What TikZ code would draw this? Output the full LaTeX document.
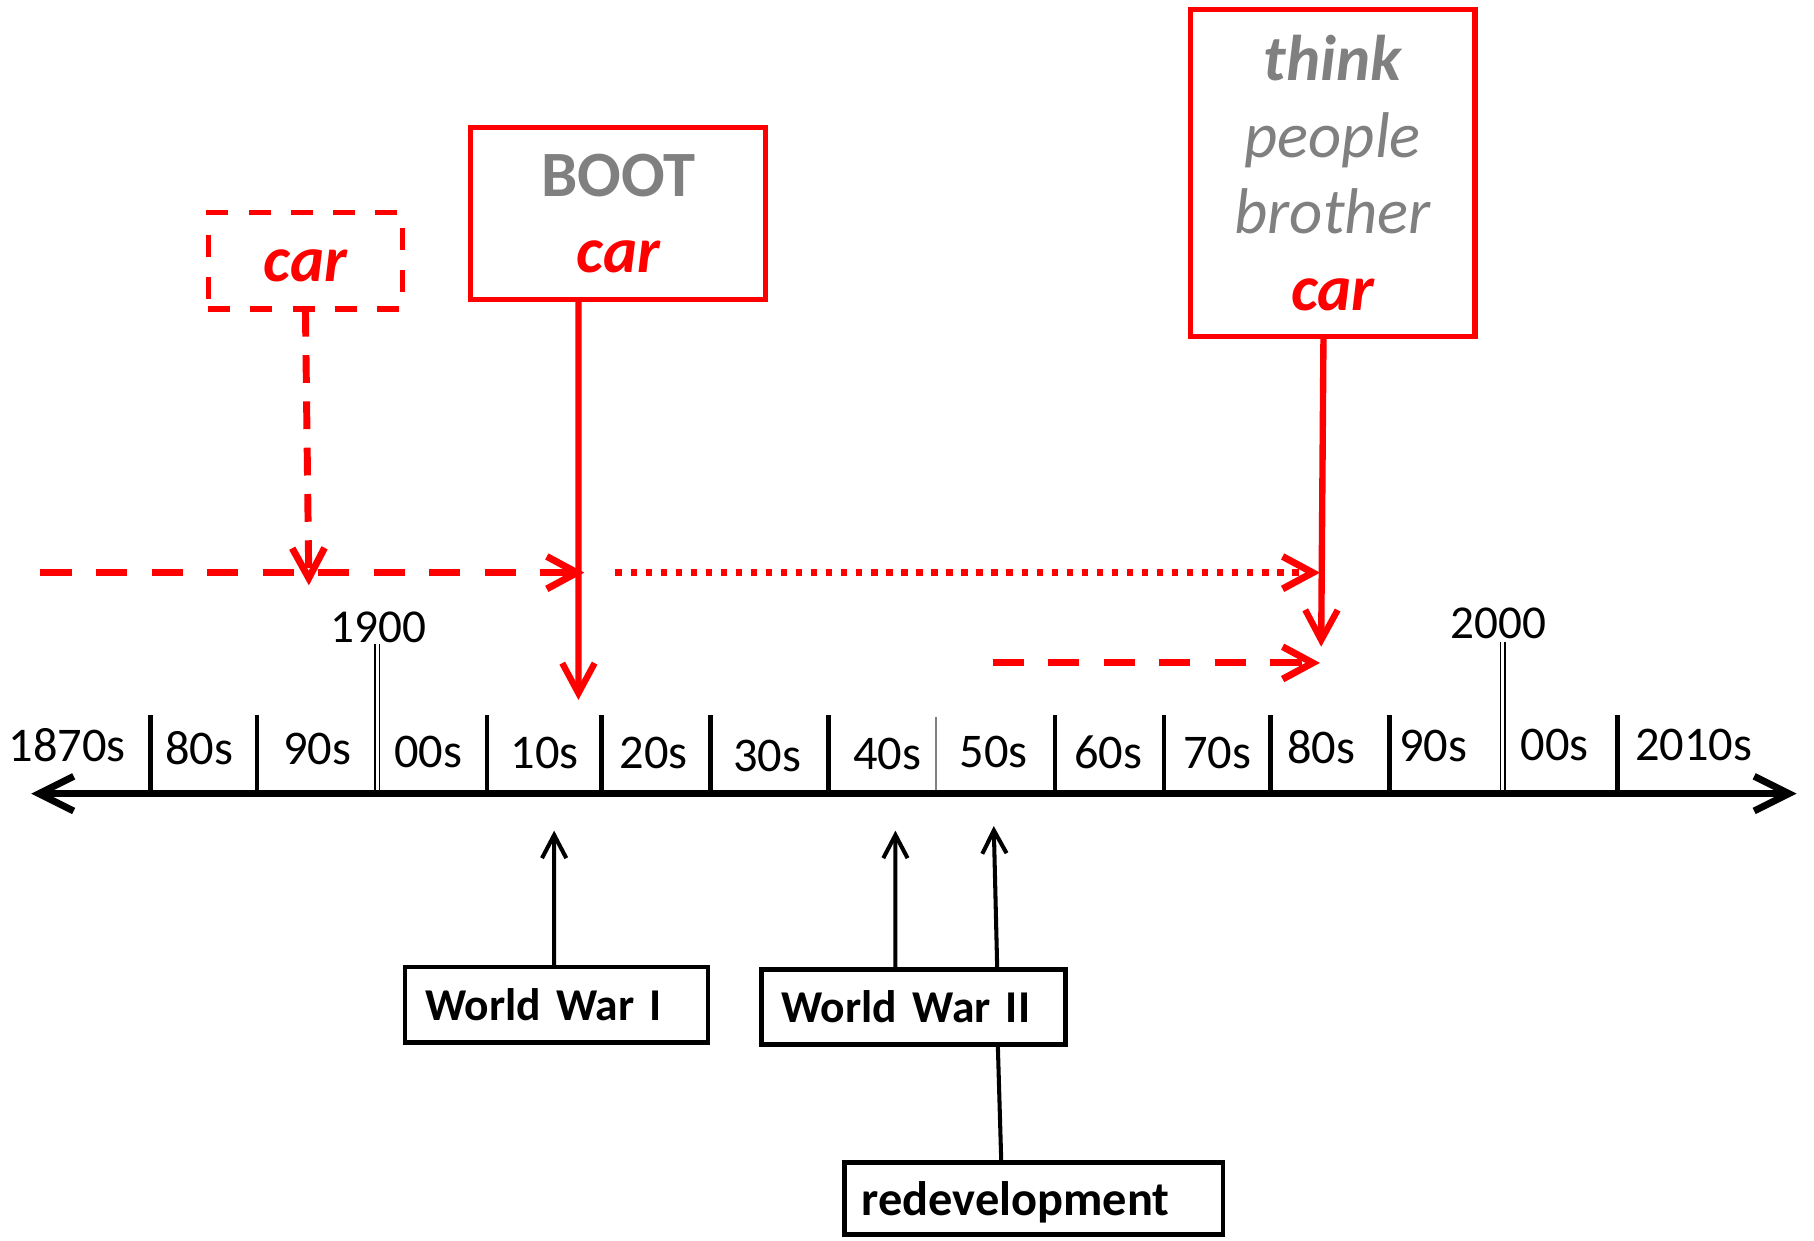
\documentclass[tikz,border=0pt]{standalone}
\usepackage{fontspec}
\setmainfont{Carlito}
\usetikzlibrary{arrows.meta}

\begin{document}
\begin{tikzpicture}[x=0.1mm, y=-0.1mm,
  decade/.style={anchor=base, font=\fontsize{11.9}{14}\selectfont},
  year/.style={anchor=base, font=\fontsize{11.6}{13}\selectfont},
  redbox/.style={rectangle, draw=red, text=red, line width=0.45mm, anchor=north west, outer sep=0pt, inner sep=0pt, align=center, font=\fontsize{15.9}{18.8}\selectfont\bfseries\itshape},
  eventbox/.style={rectangle, draw, line width=0.4mm, anchor=north west, outer sep=0pt, inner xsep=1.75mm, inner ysep=0pt, align=left, font=\fontsize{11.2}{13}\selectfont\bfseries},
  redarrow/.style={red, line width=0.55mm, -{Straight Barb[length=2.6mm, width=2.8mm]}},
  reddashed/.style={redarrow, line width=0.6mm, dash pattern=on 2.7mm off 2.1mm},
  reddotted/.style={redarrow, line width=0.6mm, dash pattern=on 0.55mm off 0.75mm},
  eventarrow/.style={line width=0.35mm, -{Straight Barb[length=2mm, width=2.1mm]}}]

\useasboundingbox (0,0) rectangle (1568,1072);

% timeline with decade ticks
\draw[line width=0.4mm] (130,618) -- (130,686) (222,618) -- (222,686) (421,618) -- (421,686)
  (520,618) -- (520,686) (614,618) -- (614,686) (716,618) -- (716,686)
  (912,618) -- (912,686) (1006,618) -- (1006,686) (1098,618) -- (1098,686)
  (1201,618) -- (1201,686) (1398,618) -- (1398,686);
\draw[gray, line width=0.2mm] (809,620) -- (809,686);
\draw[double, double distance=0.25mm, line width=0.15mm] (326,557) -- (326,686) (1299,555) -- (1299,686);

\coordinate (past) at (27,686);
\coordinate (future) at (1553,686);
\draw[line width=0.6mm, {Straight Barb[length=3mm, width=3mm]}-{Straight Barb[length=3mm, width=3mm]}] (past) -- (future);

\node[decade] (d1870) at (58,658) {1870s};
\node[decade] (d1880) at (172,661) {80s};
\node[decade] (d1890) at (274,661) {90s};
\node[decade] (d1900) at (370,663) {00s};
\node[decade] (d1910) at (471,664) {10s};
\node[decade] (d1920) at (565,664) {20s};
\node[decade] (d1930) at (663,667) {30s};
\node[decade] (d1940) at (767,665) {40s};
\node[decade] (d1950) at (859,663) {50s};
\node[decade] (d1960) at (958,664) {60s};
\node[decade] (d1970) at (1052,664) {70s};
\node[decade] (d1980) at (1142,660) {80s};
\node[decade] (d1990) at (1239,658) {90s};
\node[decade] (d2000) at (1344,657) {00s};
\node[decade] (d2010) at (1464,657) {2010s};

\node[year] (y1900) at (327,555) {1900};
\node[year] (y2000) at (1295,552) {2000};

% the word and its senses
\node[redbox, dash pattern=on 1.9mm off 1.75mm, minimum width=16.8mm, minimum height=8.3mm, text height=3.6mm] (early) at (180,184) {car};
\node[redbox, minimum width=25.5mm, minimum height=14.9mm] (boot) at (407,110) {\textcolor{gray}{\upshape BOOT}\\car};
\node[redbox, minimum width=24.6mm, minimum height=28.3mm] (think) at (1029,8) {\textcolor{gray}{think}\\\textcolor{gray}{\mdseries people}\\\textcolor{gray}{\mdseries brother}\\car};

\coordinate (e0) at (35,495);
\coordinate (e1) at (505,495);
\coordinate (e2) at (267,506);
\coordinate (b0) at (532,495);
\coordinate (b1) at (1141,495);
\coordinate (b2) at (500,605);
\coordinate (l0) at (858,573);
\coordinate (l1) at (1141,573);
\coordinate (l2) at (1142,559);

\draw[reddashed] (e0) -- (e1);
\draw[reddashed, dash pattern=on 2.4mm off 1.6mm] (early.south) -- (e2);
\draw[redarrow] ([xshift=-3.45mm]boot.south) -- (b2);
\draw[reddotted] (b0) -- (b1);
\draw[redarrow] ([xshift=-0.8mm]think.south) -- (l2);
\draw[reddashed] (l0) -- (l1);

% events below the line
\node[eventbox, minimum width=26.2mm, minimum height=6.5mm, text width=22.7mm] (ww1) at (350,836) {World War I};
\node[eventbox, minimum width=26.3mm, minimum height=6.5mm, text width=22.8mm] (ww2) at (658,838) {World War II};
\node[eventbox, minimum width=32.7mm, minimum height=6.2mm, text width=29.7mm, inner xsep=1.5mm, text depth=0pt, font=\fontsize{11.9}{13}\selectfont\bfseries] (redev) at (730,1005) {redevelopment};

\coordinate (w1) at (479,718);
\coordinate (w2) at (774,718);
\coordinate (w3) at (859,714);
\draw[eventarrow] ([xshift=-0.2mm]ww1.north) -- (w1);
\draw[eventarrow] ([xshift=-1.55mm]ww2.north) -- (w2);
\draw[eventarrow] ([xshift=7.25mm]ww2.north) -- (w3);
\draw[line width=0.35mm] ([xshift=7.3mm]ww2.south) -- ([xshift=-2.8mm]redev.north);

\end{tikzpicture}
\end{document}
